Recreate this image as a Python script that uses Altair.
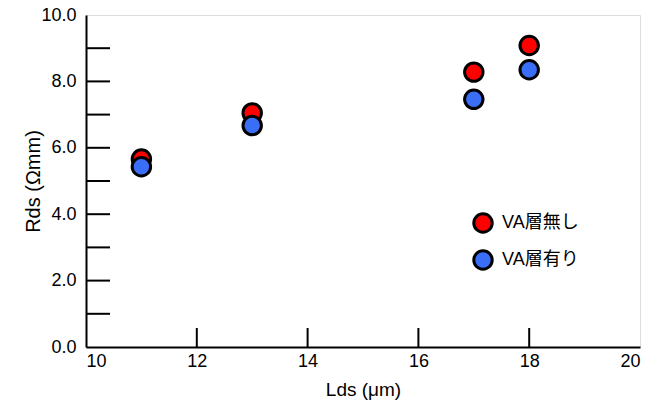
import altair as alt
import pandas as pd

lds = [11, 13, 17, 18]
rds_without = [5.66, 7.05, 8.28, 9.08]
rds_with = [5.43, 6.67, 7.46, 8.35]
series_names = ["VA層無し", "VA層有り"]
series_colors = ["#ff0000", "#3b6ef6"]
series_draw_order = [0, 1]
y_tick_values = [1, 2, 3, 4, 5, 6, 7, 8, 9]
x_tick_values = [12, 14, 16, 18]
x_label_values = [10, 12, 14, 16, 18, 20]
y_label_values = [0, 2, 4, 6, 8, 10]

FONT = "Liberation Sans, Arial, Noto Sans CJK JP"
W, H = 554, 332

rows = []
for x, a, b in zip(lds, rds_without, rds_with):
    rows.append({"Lds": x, "Rds": a, "series": series_names[0], "ord": series_draw_order[0]})
    rows.append({"Lds": x, "Rds": b, "series": series_names[1], "ord": series_draw_order[1]})
df = pd.DataFrame(rows)

xscale = alt.Scale(domain=[10, 20], nice=False, zero=False)
yscale = alt.Scale(domain=[0, 10], nice=False)

points = alt.Chart(df).mark_point(
    filled=True, size=340, stroke="black", strokeWidth=3, opacity=1, shape="circle"
).encode(
    x=alt.X("Lds:Q", scale=xscale, title="Lds (μm)",
            axis=alt.Axis(values=x_label_values, ticks=False, grid=False,
                          domainColor="black", domainWidth=2, labelPadding=5,
                          labelFontSize=18, labelColor="black", labelFont=FONT,
                          titleFont=FONT, titleFontSize=19, titleFontWeight="normal",
                          titleColor="black", titlePadding=10)),
    y=alt.Y("Rds:Q", scale=yscale, title="Rds (Ωmm)",
            axis=alt.Axis(values=y_label_values, format=".1f", ticks=False, grid=False,
                          domainColor="black", domainWidth=2, labelPadding=10,
                          labelFontSize=18, labelColor="black", labelFont=FONT,
                          titleFont=FONT, titleFontSize=20, titleFontWeight="normal",
                          titleColor="black", titlePadding=-3)),
    color=alt.Color("series:N",
                    scale=alt.Scale(domain=series_names, range=series_colors),
                    legend=alt.Legend(title=None, orient="none", legendX=386, legendY=197,
                                      labelFont=FONT, labelFontSize=18, labelColor="black",
                                      symbolSize=340, symbolStrokeWidth=3,
                                      symbolStrokeColor="black", symbolType="circle",
                                      rowPadding=5, labelOffset=8, padding=0)),
    order=alt.Order("ord:Q", sort="ascending"),
)

yt = alt.Chart(pd.DataFrame({"v": y_tick_values})).mark_rule(
    color="black", strokeWidth=2
).encode(y=alt.Y("v:Q", scale=yscale), x=alt.value(0), x2=alt.value(24))

xt = alt.Chart(pd.DataFrame({"v": x_tick_values})).mark_rule(
    color="black", strokeWidth=2
).encode(x=alt.X("v:Q", scale=xscale), y=alt.value(H), y2=alt.value(H - 19))

chart = alt.layer(yt, xt, points).properties(
    width=W, height=H,
    autosize=alt.AutoSizeParams(type="none"),
    padding={"left": 78, "top": 7, "right": 10, "bottom": 56},
).configure_view(stroke="black", strokeWidth=2).configure(background="white")

chart.save("out.html", embed_options={"renderer": "svg", "actions": False})
